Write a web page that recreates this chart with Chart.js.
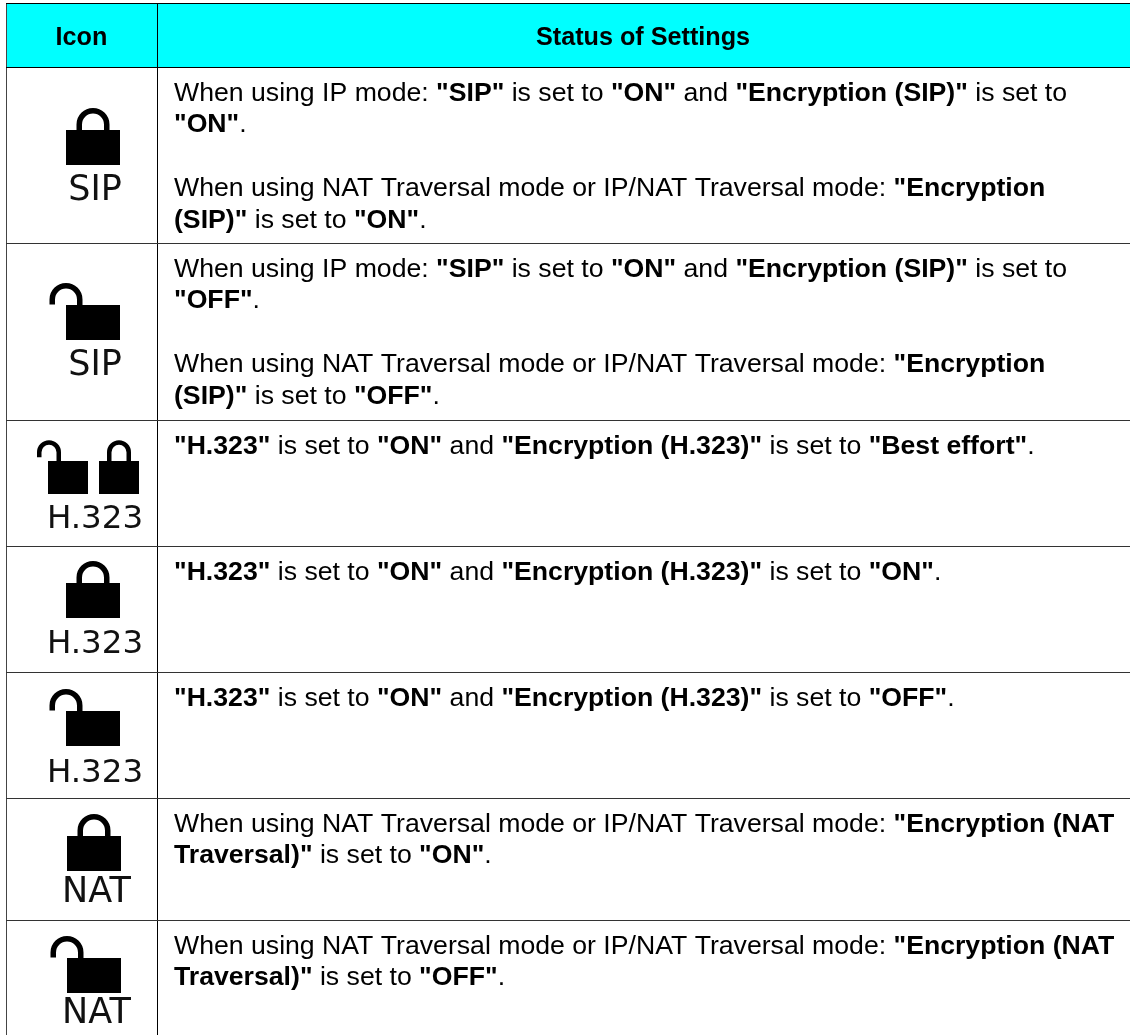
<!DOCTYPE html>
<html>
<head>
<meta charset="utf-8">
<title>Status of Settings</title>
<script src="https://cdn.jsdelivr.net/npm/chart.js@4"></script>
<style>
html, body { margin: 0; padding: 0; background: #fff; overflow: hidden; }
#wrap { width: 1130px; height: 1035px; }
</style>
</head>
<body>
<div id="wrap"><canvas id="table"></canvas></div>
<script>
// Table content, **x** marks bold runs
const headers = ['Icon', 'Status of Settings'];
const iconKinds = ['closed', 'open', 'both', 'closed', 'open', 'closed', 'open'];
const iconLabels = ['SIP', 'SIP', 'H.323', 'H.323', 'H.323', 'NAT', 'NAT'];
const rowLines = [
    ['When using IP mode: **"SIP"** is set to **"ON"** and **"Encryption (SIP)"** is set to', '**"ON"**.', '',
     'When using NAT Traversal mode or IP/NAT Traversal mode: **"Encryption**', '**(SIP)"** is set to **"ON"**.'],
    ['When using IP mode: **"SIP"** is set to **"ON"** and **"Encryption (SIP)"** is set to', '**"OFF"**.', '',
     'When using NAT Traversal mode or IP/NAT Traversal mode: **"Encryption**', '**(SIP)"** is set to **"OFF"**.'],
    ['**"H.323"** is set to **"ON"** and **"Encryption (H.323)"** is set to **"Best effort"**.'],
    ['**"H.323"** is set to **"ON"** and **"Encryption (H.323)"** is set to **"ON"**.'],
    ['**"H.323"** is set to **"ON"** and **"Encryption (H.323)"** is set to **"OFF"**.'],
    ['When using NAT Traversal mode or IP/NAT Traversal mode: **"Encryption (NAT**', '**Traversal)"** is set to **"ON"**.'],
    ['When using NAT Traversal mode or IP/NAT Traversal mode: **"Encryption (NAT**', '**Traversal)"** is set to **"OFF"**.']
];
// Grid positions of the table on the linear scales
const columnEdges = [6, 157];
const rowEdges = [3, 67, 243, 420, 546, 672, 798, 920];

// Layout of the icon column, measured from the top of each row
const lockDrop = [63, 62, 41, 37, 39, 38, 38];
const labelDrop = [133, 132, 108, 107, 110, 104, 103];
const labelSize = { 'SIP': 35, 'H.323': 32.5, 'NAT': 35 };

const TEXT_X = 174;
const TEXT_SIZE = 26.65;
const HEAD_SIZE = 25.2;

// Draw one padlock on a small canvas, used as a point style.
// The canvas centre is the middle of the top edge of the lock body.
function lockCanvas(bodyW, bodyH, shackleW, stroke, shift) {
    const shackleH = bodyH * 0.63;
    const half = Math.ceil(bodyW / 2 + shift + shackleW / 2);
    const c = document.createElement('canvas');
    c.width = half * 2;
    c.height = Math.ceil(Math.max(bodyH, shackleH)) * 2;
    const g = c.getContext('2d');
    const top = c.height / 2;
    g.fillStyle = '#000';
    g.fillRect(half - bodyW / 2, top, bodyW, bodyH);
    g.strokeStyle = '#000';
    g.lineWidth = stroke;
    const r = (shackleW - stroke) / 2;
    const cx = half - shift;
    const cy = top - shackleH + stroke / 2 + r;
    g.beginPath();
    g.moveTo(cx - r, shift ? cy + 5 : top + 1);
    g.lineTo(cx - r, cy);
    g.arc(cx, cy, r, Math.PI, 0);
    g.lineTo(cx + r, top + 1);
    g.stroke();
    return c;
}

const bigClosed = lockCanvas(54, 35, 33, 5.5, 0);
const bigOpen = lockCanvas(54, 35, 33, 5.5, 27);
const smallClosed = lockCanvas(40, 33, 24, 4.5, 0);
const smallOpen = lockCanvas(40, 33, 24, 4.5, 19);

const iconPoints = [];
const iconStyles = [];
iconKinds.forEach((kind, i) => {
    const y = rowEdges[i + 1] + lockDrop[i];
    if (kind === 'both') {
        iconPoints.push({ x: 68, y }, { x: 119, y });
        iconStyles.push(smallOpen, smallClosed);
    } else {
        iconPoints.push({ x: iconLabels[i] === 'NAT' ? 94 : 93, y });
        iconStyles.push(kind === 'open' ? bigOpen : bigClosed);
    }
});

function drawRuns(ctx, line, x, y) {
    line.split('**').forEach((run, i) => {
        ctx.font = `${i % 2 ? 'bold ' : ''}${TEXT_SIZE}px "Liberation Sans"`;
        ctx.fillText(run, x, y);
        x += ctx.measureText(run).width;
    });
}

const tableText = {
    id: 'tableText',
    afterDatasetsDraw(chart) {
        const { ctx, scales: { x, y } } = chart;
        ctx.save();
        ctx.fillStyle = '#000';
        ctx.textBaseline = 'alphabetic';
        ctx.font = `bold ${HEAD_SIZE}px "Liberation Sans"`;
        ctx.textAlign = 'center';
        ctx.fillText(headers[0], x.getPixelForValue(81.5), y.getPixelForValue(45));
        ctx.fillText(headers[1], x.getPixelForValue(643), y.getPixelForValue(45));
        ctx.textAlign = 'left';
        rowLines.forEach((lines, i) => {
            lines.forEach((line, j) => {
                const base = Math.round(rowEdges[i + 1] + 33.5 + j * 31.5 + (j > 2 ? 1 : 0));
                if (line) drawRuns(ctx, line, x.getPixelForValue(TEXT_X), y.getPixelForValue(base));
            });
        });
        ctx.textAlign = 'center';
        ctx.fillStyle = '#111';
        iconLabels.forEach((label, i) => {
            ctx.font = `${labelSize[label]}px "DejaVu Sans"`;
            ctx.fillText(label, x.getPixelForValue(label === 'NAT' ? 96.5 : 95), y.getPixelForValue(rowEdges[i + 1] + labelDrop[i]));
        });
        ctx.restore();
    }
};

new Chart(document.getElementById('table'), {
    type: 'bar',
    data: {
        datasets: [{
            // header band
            data: [{ x: [columnEdges[0], 1130], y: (rowEdges[0] + rowEdges[1]) / 2 }],
            backgroundColor: '#00ffff',
            barThickness: rowEdges[1] - rowEdges[0],
            order: 2
        }, {
            type: 'scatter',
            data: iconPoints,
            pointStyle: iconStyles,
            order: 1
        }]
    },
    options: {
        indexAxis: 'y',
        responsive: true,
        maintainAspectRatio: false,
        animation: false,
        events: [],
        layout: { autoPadding: false, padding: { left: 6, top: 3, right: 0, bottom: 0 } },
        plugins: { legend: { display: false }, tooltip: { enabled: false } },
        scales: {
            x: {
                type: 'linear', min: 6, max: 1130,
                border: { display: false },
                grid: { color: ctx => ctx.index === 0 ? '#444' : '#000', drawTicks: false, z: 1 },
                afterBuildTicks: s => { s.ticks = columnEdges.map(value => ({ value })); },
                ticks: { display: false }
            },
            y: {
                type: 'linear', min: 3, max: 1035, reverse: true, offset: false,
                border: { display: false },
                grid: { offset: false, color: ctx => ctx.index < 2 ? '#000' : '#333', drawTicks: false, z: 1 },
                afterBuildTicks: s => { s.ticks = rowEdges.map(value => ({ value })); },
                ticks: { display: false }
            }
        }
    },
    plugins: [tableText]
});
</script>
</body>
</html>
